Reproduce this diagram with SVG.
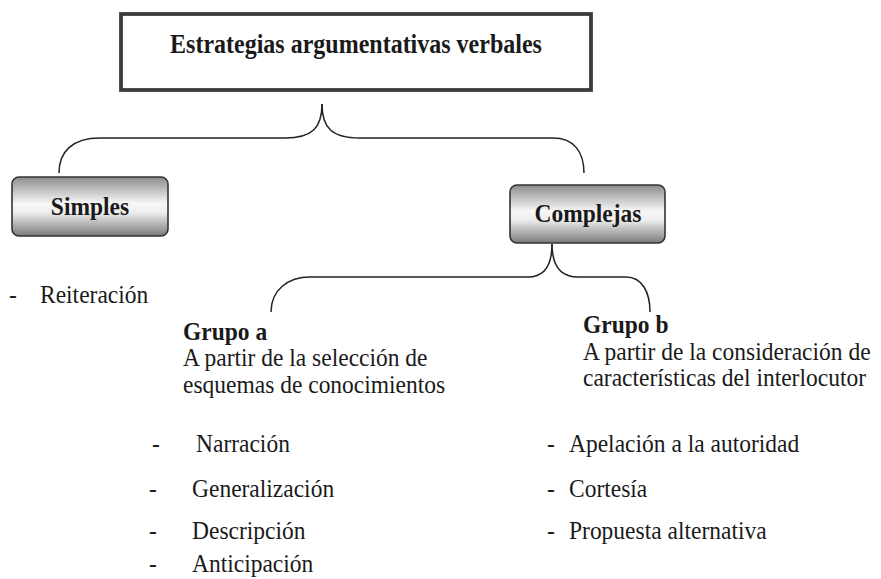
<svg xmlns="http://www.w3.org/2000/svg" width="881" height="579" viewBox="0 0 881 579">
<style>
text{font-family:'Liberation Serif','Times New Roman','DejaVu Serif',serif;fill:#1a1a1a;font-size:23.5px}
.b{font-weight:bold}
.title{font-size:24px;font-weight:bold}
.conn{fill:none;stroke:#222;stroke-width:1.5}
.rbox{fill:url(#g);stroke:#333;stroke-width:1.6}
</style>
<defs>
<linearGradient id="g" x1="0" y1="0" x2="0" y2="1">
<stop offset="0" stop-color="#8c8c8c"/>
<stop offset="0.45" stop-color="#f7f7f7"/>
<stop offset="0.6" stop-color="#eeeeee"/>
<stop offset="1" stop-color="#7a7a7a"/>
</linearGradient>
</defs>
<g id="connectors">
<path class="conn" d="M322,104 C322,128 312,138 285,138 L100,138 C72,138 59,152 59,173"/>
<path class="conn" d="M322,104 C322,128 332,138 360,138 L553,138 C574,138 584,152 584,173"/>
<path class="conn" d="M552,244 C552,266 544,277 528,277 L310,277 C288,277 271,290 271,312"/>
<path class="conn" d="M552,244 C552,266 560,277 578,277 L626,277 C642,277 650,292 650,312"/>
</g>
<g id="title">
<rect x="121" y="14" width="470" height="76" fill="#fff" stroke="#3c3c3c" stroke-width="3.8"/>
<text class="title" x="356" y="53" text-anchor="middle" transform="matrix(1 0 0 1.1 0 -5.3)">Estrategias argumentativas verbales</text>
</g>
<g id="simples">
<rect class="rbox" x="12" y="177" width="156" height="59" rx="7"/>
<text class="b" x="90" y="215" text-anchor="middle" transform="matrix(1 0 0 1.1 0 -21.5)">Simples</text>
</g>
<g id="complejas">
<rect class="rbox" x="510" y="185" width="155" height="58" rx="7"/>
<text class="b" x="588" y="222" text-anchor="middle" transform="matrix(1 0 0 1.1 0 -22.2)">Complejas</text>
</g>
<g id="simples-list">
<text x="9" y="303" transform="matrix(1 0 0 1.1 0 -30.3)">-</text>
<text x="40" y="303" transform="matrix(1 0 0 1.1 0 -30.3)">Reiteración</text>
</g>
<g id="grupo-a">
<text class="b" x="183" y="340" transform="matrix(1 0 0 1.1 0 -34)">Grupo a</text>
<text x="183" y="366" transform="matrix(1 0 0 1.1 0 -36.6)">A partir de la selección de</text>
<text x="183" y="393" transform="matrix(1 0 0 1.1 0 -39.3)">esquemas de conocimientos</text>
</g>
<g id="grupo-b">
<text class="b" x="583" y="333" transform="matrix(1 0 0 1.1 0 -33.3)">Grupo b</text>
<text x="583" y="360" transform="matrix(1 0 0 1.1 0 -36)">A partir de la consideración de</text>
<text x="583" y="386" transform="matrix(1 0 0 1.1 0 -38.6)">características del interlocutor</text>
</g>
<g id="grupo-a-list">
<text x="152" y="452" transform="matrix(1 0 0 1.1 0 -45.2)">-</text>
<text x="196" y="452" transform="matrix(1 0 0 1.1 0 -45.2)">Narración</text>
<text x="149" y="497" transform="matrix(1 0 0 1.1 0 -49.7)">-</text>
<text x="192" y="497" transform="matrix(1 0 0 1.1 0 -49.7)">Generalización</text>
<text x="149" y="539" transform="matrix(1 0 0 1.1 0 -53.9)">-</text>
<text x="192" y="539" transform="matrix(1 0 0 1.1 0 -53.9)">Descripción</text>
<text x="149" y="572" transform="matrix(1 0 0 1.1 0 -57.2)">-</text>
<text x="192" y="572" transform="matrix(1 0 0 1.1 0 -57.2)">Anticipación</text>
</g>
<g id="grupo-b-list">
<text x="547" y="452" transform="matrix(1 0 0 1.1 0 -45.2)">-</text>
<text x="569" y="452" transform="matrix(1 0 0 1.1 0 -45.2)">Apelación a la autoridad</text>
<text x="547" y="497" transform="matrix(1 0 0 1.1 0 -49.7)">-</text>
<text x="569" y="497" transform="matrix(1 0 0 1.1 0 -49.7)">Cortesía</text>
<text x="547" y="539" transform="matrix(1 0 0 1.1 0 -53.9)">-</text>
<text x="569" y="539" transform="matrix(1 0 0 1.1 0 -53.9)">Propuesta alternativa</text>
</g>
</svg>
